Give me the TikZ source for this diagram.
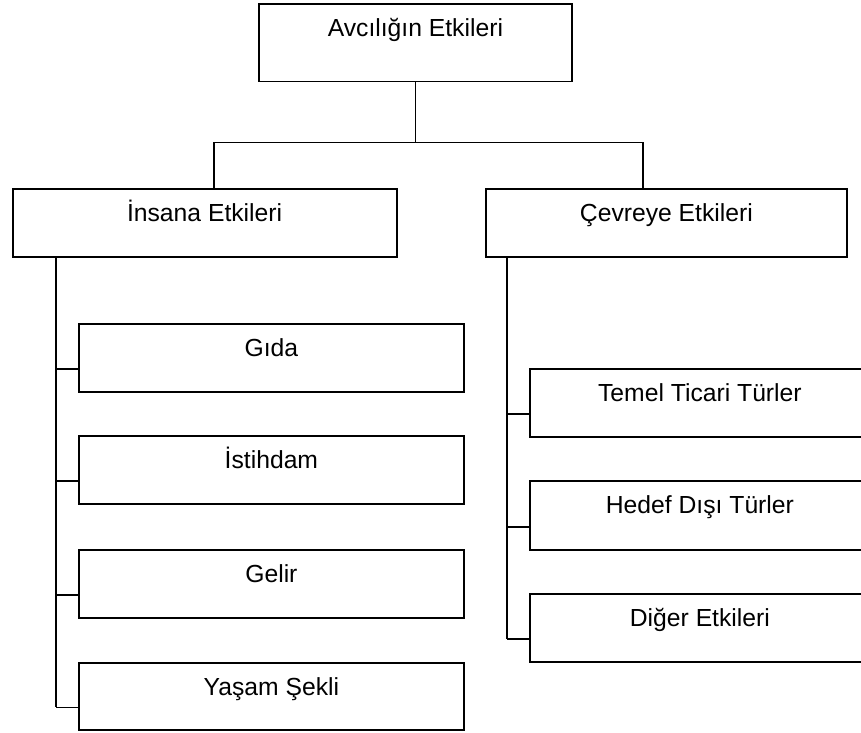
\documentclass[tikz,border=0pt]{standalone}
\usepackage{fontspec}
\setmainfont{Liberation Sans}
\usetikzlibrary{calc}
\begin{document}
\begin{tikzpicture}[x=1pt,y=-1pt,
  box/.style={draw, line width=1.8pt, rectangle, inner sep=0pt, text height=33pt, text depth=35pt, anchor=north west, font=\fontsize{24.7}{29}\selectfont},
  conn/.style={line width=1.8pt}]
\useasboundingbox (0,0) rectangle (861,732);
\clip (0,0) rectangle (861,732);
% boxes
\node[box, minimum width=313pt, text depth=44.5pt] (top) at (258,3) {Avcılığın Etkileri};
\node[box, minimum width=384pt] (ins) at (11.7,188) {İnsana Etkileri};
\node[box, minimum width=361pt] (cev) at (485,188) {Çevreye Etkileri};
\node[box, minimum width=385pt] (gida) at (78,323) {Gıda};
\node[box, minimum width=385pt] (ist) at (78,435) {İstihdam};
\node[box, minimum width=385pt] (gel) at (78,549) {Gelir};
\node[box, minimum width=385pt, text depth=34pt] (yas) at (78,662) {Yaşam Şekli};
\node[box, minimum width=340pt] (tem) at (529,368) {Temel Ticari Türler};
\node[box, minimum width=340pt, text depth=36pt] (hed) at (529,480) {Hedef Dışı Türler};
\node[box, minimum width=340pt] (dig) at (529,593) {Diğer Etkileri};
% junctions
\coordinate (jl) at (214,142.5);
\coordinate (jr) at (643,142.5);
\coordinate (tl) at (56,300);
\coordinate (tr) at (507,300);
\foreach \n in {gida,ist,gel,yas,tem,hed,dig}
  \coordinate (b\n) at ($(\n.south west)!0.34!(\n.north west)$);
% connectors
\draw[conn] (top.south) -- (top.south |- jl);
\draw[conn] (jl |- ins.north) -- (jl) -- (jr) -- (jr |- cev.north);
\draw[conn] (tl |- ins.south) -- (tl |- byas);
\draw[conn] (tr |- cev.south) -- (tr |- bdig);
\foreach \n in {gida,ist,gel,yas}
  \draw[conn] (tl |- b\n) -- (b\n);
\foreach \n in {tem,hed,dig}
  \draw[conn] (tr |- b\n) -- (b\n);
\end{tikzpicture}
\end{document}
